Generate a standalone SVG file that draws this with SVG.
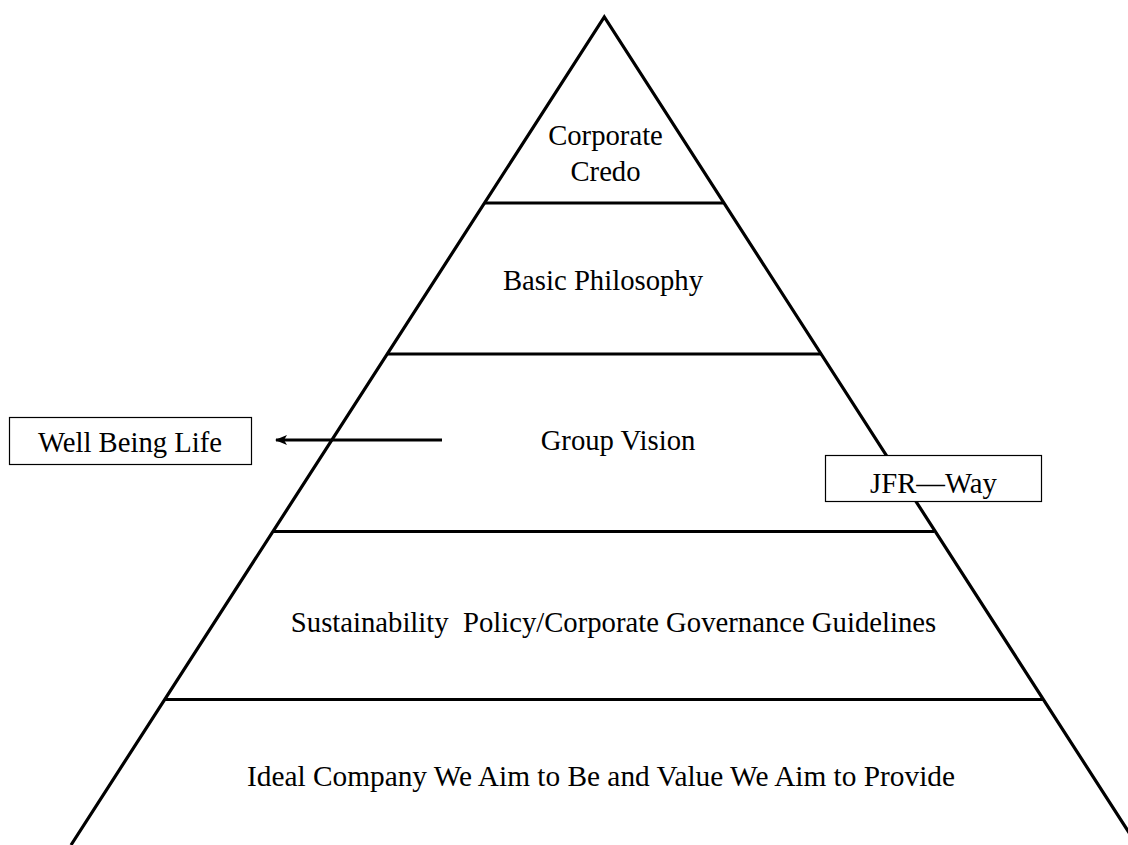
<svg xmlns="http://www.w3.org/2000/svg" width="1128" height="845" viewBox="0 0 1128 845">
<style>
.edge{stroke:#000;stroke-width:3.2;fill:none}
.box{fill:#fff;stroke:#000;stroke-width:1.2}
.t{font-size:28.7px;fill:#000;text-anchor:middle}
</style>
<defs>
<marker id="ah" markerWidth="12" markerHeight="10" refX="11" refY="5" orient="auto" markerUnits="userSpaceOnUse">
<path d="M0,0 L12,5 L0,10 L3,5 Z" fill="#000"/>
</marker>
</defs>
<rect width="1128" height="845" fill="#fff"/>
<g id="pyramid">
<polyline class="edge" points="71,845 604.3,17 1137,845"/>
<line class="edge" x1="484" y1="203" x2="723" y2="203"/>
<line class="edge" x1="387" y1="354" x2="821" y2="354"/>
<line class="edge" x1="273" y1="531.5" x2="934" y2="531.5"/>
<line class="edge" x1="165" y1="699.5" x2="1043" y2="699.5"/>
</g>
<g style="font-family:'Times New Roman','Liberation Serif',Tinos,serif">
<g id="credo"><text class="t" x="605.5" y="145">Corporate</text><text class="t" x="605.5" y="181">Credo</text></g>
<g id="philosophy"><text class="t" x="603" y="290">Basic Philosophy</text></g>
<g id="vision"><text class="t" x="618" y="450">Group Vision</text></g>
<g id="policy"><text class="t" x="613.5" y="632" xml:space="preserve">Sustainability  Policy/Corporate Governance Guidelines</text></g>
<g id="ideal"><text class="t" x="601" y="786" textLength="708" lengthAdjust="spacingAndGlyphs">Ideal Company We Aim to Be and Value We Aim to Provide</text></g>
<g id="wellbeing"><rect class="box" x="9.5" y="417.5" width="242" height="47"/><text class="t" x="130" y="452">Well Being Life</text></g>
<g id="jfrway"><rect class="box" x="825.5" y="455.5" width="216" height="46"/><text class="t" x="933.5" y="493">JFR—Way</text></g>
</g>
<g id="connectors">
<line class="edge" x1="442" y1="440" x2="276" y2="440" marker-end="url(#ah)"/>
</g>
</svg>
